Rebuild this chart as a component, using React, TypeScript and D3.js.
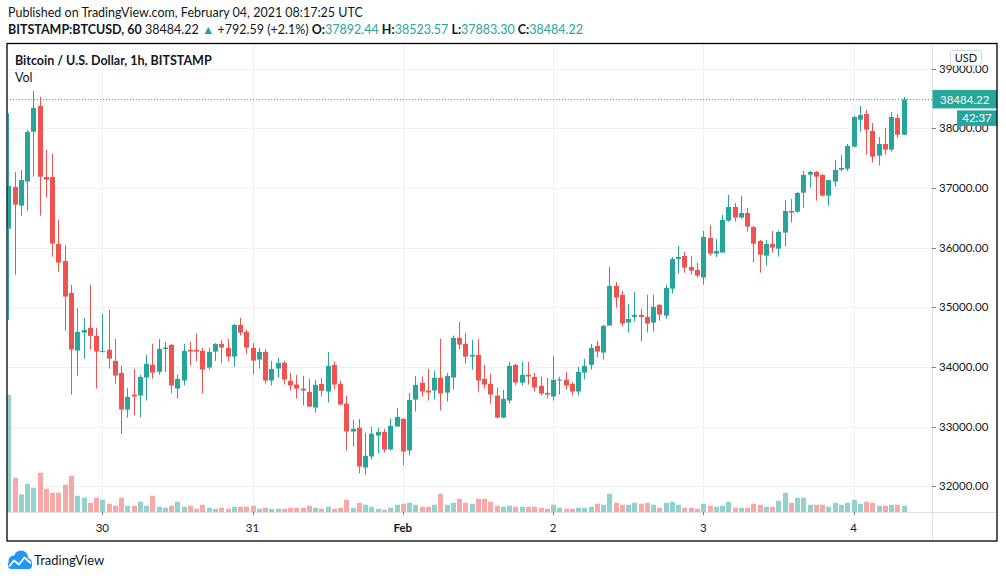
import * as d3 from "d3";

// hourly BTC/USD candles, first one = 29 Jan 2021 09:00 UTC
const START = new Date(Date.UTC(2021, 0, 29, 9));

const opens = [36318, 37017, 36704, 37106, 37943, 38374, 37184, 37184, 36062, 35777,
  35241, 34275, 34576, 34655, 34521, 34258, 34287, 34102, 33901, 33286,
  33538, 33521, 33823, 34035, 33918, 34300, 34370, 33638, 33773, 34287,
  34287, 34270, 33990, 34258, 34387, 34320, 34174, 34705, 34588, 34320,
  34124, 34253, 33773, 33973, 34069, 33768, 33706, 33638, 33583, 33320,
  33717, 33588, 34035, 33717, 33387, 32918, 32980, 32315, 32499, 32851,
  32913, 32617, 33002, 33130, 32600, 33454, 33734, 33605, 33605, 33818,
  33571, 33822, 34488, 34387, 34174, 34203, 33801, 33717, 33521, 33152,
  33437, 34035, 33739, 33868, 33834, 33684, 33566, 33504, 33773, 33784,
  33717, 33588, 33906, 34035, 34354, 34241, 34694, 35359, 35208, 34744,
  34839, 34873, 34839, 34744, 35040, 34861, 35313, 35811, 35861, 35677,
  35626, 35498, 36163, 35900, 35917, 36452, 36682, 36503, 36581, 36347,
  36112, 35866, 36062, 35983, 36251, 36615, 36603, 36921, 37223, 37268,
  37218, 36871, 37106, 37307, 37323, 37692, 38144, 38240, 37955, 37541,
  37737, 37642, 38173, 37892.44];

const highs = [38251, 37268, 37302, 37972, 38625, 38529, 37637, 37570, 36464, 36045,
  35375, 34985, 34822, 35375, 34655, 34889, 34956, 34471, 34018, 33649,
  33968, 33868, 34203, 34387, 34471, 34420, 34390, 33868, 34387, 34420,
  34560, 34320, 34320, 34400, 34454, 34471, 34720, 34822, 34621, 34404,
  34320, 34303, 34102, 34153, 34102, 33901, 33868, 33851, 33801, 33784,
  33818, 34253, 34086, 33768, 33516, 33114, 33130, 32896, 32997, 32980,
  32963, 33130, 33315, 33140, 33566, 33851, 33840, 33968, 33935, 34471,
  33901, 34526, 34756, 34571, 34454, 34471, 34035, 33884, 33655, 33616,
  34086, 34052, 34086, 34086, 33901, 33834, 33818, 34186, 33834, 33918,
  33750, 34002, 34136, 34387, 34437, 34705, 35677, 35426, 35275, 35057,
  35258, 34973, 35208, 35208, 35057, 35375, 35844, 36029, 35928, 35861,
  35744, 36280, 36380, 36146, 36548, 36883, 36749, 36866, 36665, 36360,
  36129, 36129, 36280, 36280, 36799, 36816, 36933, 37285, 37285, 37285,
  37230, 37140, 37469, 37553, 37737, 38206, 38374, 38307, 38089, 37854,
  38005, 38273, 38240, 38523.57];

const lows = [34789, 35544, 36536, 36620, 37189, 36536, 36838, 35849, 35593, 34610,
  33538, 33856, 34141, 34287, 33638, 34241, 33973, 33722, 32875, 33152,
  33186, 33152, 33437, 33801, 33868, 33918, 33555, 33471, 33689, 34023,
  34090, 33555, 33957, 34102, 34057, 34090, 34007, 34526, 34220, 33873,
  33973, 33722, 33689, 33822, 33706, 33605, 33471, 33354, 33330, 33236,
  33504, 33404, 33622, 33354, 32600, 32667, 32215, 32198, 32449, 32550,
  32566, 32600, 33002, 32349, 32516, 33253, 33504, 33437, 33454, 33270,
  33421, 33622, 34292, 34057, 33957, 33588, 33638, 33387, 33140, 33140,
  33387, 33689, 33689, 33706, 33588, 33521, 33471, 33437, 33538, 33622,
  33521, 33521, 33789, 33957, 34158, 34124, 34694, 34995, 34677, 34576,
  34761, 34426, 34576, 34593, 34777, 34811, 35230, 35565, 35581, 35548,
  35498, 35380, 35866, 35844, 35917, 36436, 36436, 36486, 36268, 35749,
  35581, 35699, 35916, 35849, 36017, 36419, 36586, 36670, 37005, 36787,
  36855, 36704, 37022, 37273, 37290, 37680, 37943, 37558, 37424, 37374,
  37558, 37608, 37843, 37883.3];

const closes = [37034, 36720, 37134, 37938, 38340, 37189, 37139, 36067, 35749, 35179,
  34292, 34588, 34621, 34521, 34258, 34270, 34141, 33856, 33286, 33499,
  33504, 33834, 34052, 33906, 34303, 34325, 33689, 33801, 34270, 34258,
  34258, 33957, 34253, 34387, 34325, 34174, 34705, 34576, 34325, 34107,
  34253, 33773, 33968, 34069, 33789, 33689, 33638, 33605, 33337, 33700,
  33600, 34018, 33706, 33370, 32918, 32963, 32332, 32511, 32880, 32913,
  32617, 33013, 33164, 32583, 33449, 33700, 33588, 33571, 33818, 33555,
  33851, 34488, 34375, 34174, 34203, 33773, 33706, 33538, 33152, 33466,
  34018, 33739, 33868, 33840, 33655, 33555, 33538, 33784, 33790, 33689,
  33588, 33918, 34018, 34320, 34258, 34688, 35359, 35163, 34727, 34806,
  34873, 34839, 34727, 35007, 34878, 35325, 35811, 35844, 35665, 35615,
  35531, 36179, 35900, 35945, 36464, 36682, 36503, 36581, 36352, 36067,
  35883, 36062, 36000, 36263, 36615, 36586, 36916, 37218, 37268, 37189,
  36871, 37134, 37302, 37335, 37704, 38189, 38223, 37977, 37524, 37737,
  37642, 38189, 37892.44, 38484.22];

const volumes = [4680, 1370, 710, 1130, 970, 1570, 930, 770, 770, 1090,
  1450, 650, 570, 370, 570, 490, 330, 250, 570, 250,
  250, 410, 250, 650, 210, 170, 250, 410, 210, 250,
  130, 290, 170, 130, 170, 130, 210, 210, 210, 250,
  130, 170, 130, 130, 130, 170, 170, 170, 250, 170,
  130, 210, 130, 170, 490, 170, 370, 290, 210, 130,
  90, 170, 290, 330, 370, 290, 210, 210, 290, 730,
  290, 370, 530, 370, 330, 530, 530, 410, 250, 210,
  250, 210, 210, 210, 210, 170, 130, 290, 170, 130,
  130, 170, 170, 210, 330, 290, 730, 370, 290, 290,
  370, 330, 370, 290, 170, 370, 410, 290, 170, 170,
  130, 330, 250, 210, 250, 410, 170, 170, 170, 330,
  290, 210, 210, 450, 770, 370, 570, 570, 290, 290,
  290, 210, 370, 290, 370, 490, 330, 410, 370, 250,
  250, 290, 290, 250];

const priceTicks = [32000, 33000, 34000, 35000, 36000, 37000, 38000, 39000];
const dayTicks = [30, 31, 32, 33, 34, 35].map(d => new Date(Date.UTC(2021, 0, d)));
const dayLabels = ["30", "31", "Feb", "2", "3", "4"];

const W = 1006;
const H = 578;
const frame = { left: 7, top: 43.5, right: 997, bottom: 541 };
const plot = { left: 7, right: 932, top: 43.5, bottom: 512 };

const UP = "#26a69a";
const DOWN = "#ef5350";
const UP_VOL = "#92d2cc";
const DOWN_VOL = "#f7a9a7";
const GRID = "#f0f0f0";
const TEXT = "#131722";
const FONT = "Lato, 'Noto Sans', sans-serif";

export default function App() {
  const x = d3.scaleTime().domain([dayTicks[0], dayTicks[5]]).range([102.3, 853.5]);
  const y = d3.scaleLinear().domain([32000, 38000]).range([486.3, 128.3]);
  const yVol = d3.scaleLinear().domain([0, 5000]).range([plot.bottom, plot.bottom - 125]);

  const candles = opens.map((o, i) => ({
    t: d3.timeHour.offset(START, i),
    o, h: highs[i], l: lows[i], c: closes[i], v: volumes[i]
  }));
  const last = candles[candles.length - 1];
  const lastY = y(last.c);

  return (
    <svg width={W} height={H} style={{ position: "absolute", left: 0, top: 0, display: "block" }}
      fontFamily={FONT}>
      <rect width={W} height={H} fill="#fff" />

      {/* header */}
      <text x={8} y={17} fontSize={12.5} fill={TEXT}>
        Published on TradingView.com, February 04, 2021 08:17:25 UTC
      </text>
      <text x={8} y={34} fontSize={12.5} fill={TEXT}>
        <tspan fontWeight="bold">BITSTAMP:BTCUSD, 60</tspan>
        <tspan> 38484.22 </tspan>
        <tspan fill={UP}>▲</tspan>
        <tspan> +792.59 (+2.1%) </tspan>
        <tspan fontWeight="bold">O:</tspan><tspan fill={UP}>37892.44</tspan>
        <tspan fontWeight="bold"> H:</tspan><tspan fill={UP}>38523.57</tspan>
        <tspan fontWeight="bold"> L:</tspan><tspan fill={UP}>37883.30</tspan>
        <tspan fontWeight="bold"> C:</tspan><tspan fill={UP}>38484.22</tspan>
      </text>

      <defs>
        <clipPath id="plotClip">
          <rect x={plot.left + 0.5} y={plot.top} width={plot.right - plot.left - 0.5} height={plot.bottom - plot.top} />
        </clipPath>
      </defs>

      {/* grid */}
      <g stroke={GRID} strokeWidth={1}>
        {priceTicks.map(p => (
          <line key={p} x1={plot.left} x2={plot.right} y1={Math.round(y(p)) + 0.5} y2={Math.round(y(p)) + 0.5} />
        ))}
        {dayTicks.map(d => (
          <line key={+d} x1={Math.round(x(d)) + 0.5} x2={Math.round(x(d)) + 0.5} y1={plot.top} y2={plot.bottom} />
        ))}
      </g>

      <g clipPath="url(#plotClip)">
        {/* volume */}
        {candles.map((d, i) => {
          const cx = Math.round(x(d.t));
          return (
            <rect key={"v" + i} x={cx - 2} width={5} y={yVol(d.v)} height={plot.bottom - yVol(d.v)}
              fill={d.c >= d.o ? UP_VOL : DOWN_VOL} />
          );
        })}

        {/* candles */}
        {candles.map((d, i) => {
          const cx = Math.round(x(d.t));
          const col = d.c >= d.o ? UP : DOWN;
          const top = y(Math.max(d.o, d.c));
          const bot = y(Math.min(d.o, d.c));
          return (
            <g key={"c" + i}>
              <line x1={cx + 0.5} x2={cx + 0.5} y1={y(d.h)} y2={y(d.l)} stroke={col} strokeWidth={1} />
              <rect x={cx - 2} width={5} y={top} height={Math.max(1, bot - top)} fill={col} />
            </g>
          );
        })}

        {/* last price line */}
        <line x1={plot.left} x2={plot.right} y1={lastY} y2={lastY} stroke={UP} strokeWidth={1} strokeDasharray="1,2" />
      </g>

      {/* in-chart legend */}
      <text x={15} y={64.5} fontSize={12.5} fontWeight="bold" fill={TEXT}>Bitcoin / U.S. Dollar, 1h, BITSTAMP</text>
      <text x={15} y={81.5} fontSize={12.5} fill={TEXT}>Vol</text>

      {/* axis separators */}
      <line x1={plot.right + 0.5} x2={plot.right + 0.5} y1={frame.top} y2={frame.bottom} stroke="#e0e0e0" />
      <line x1={frame.left} x2={frame.right} y1={plot.bottom + 0.5} y2={plot.bottom + 0.5} stroke="#e0e0e0" />

      {/* price axis */}
      {priceTicks.map(p => (
        <g key={"pt" + p}>
          <line x1={plot.right} x2={plot.right + 4} y1={Math.round(y(p)) + 0.5} y2={Math.round(y(p)) + 0.5} stroke="#787b86" />
          <text x={939} y={y(p)} dy="0.36em" fontSize={11.5} fill={TEXT}>{d3.format(".2f")(p)}</text>
        </g>
      ))}

      {/* time axis */}
      {dayTicks.map((d, i) => (
        <g key={"dt" + i}>
          <line x1={Math.round(x(d)) + 0.5} x2={Math.round(x(d)) + 0.5} y1={plot.bottom} y2={plot.bottom + 3} stroke="#787b86" />
          <text x={x(d)} y={528} dy="0.36em" textAnchor="middle" fontSize={11.5}
            fontWeight={dayLabels[i] === "Feb" ? "bold" : "normal"} fill={TEXT}>{dayLabels[i]}</text>
        </g>
      ))}

      {/* USD badge */}
      <rect x={950.5} y={50.5} width={31} height={15} rx={3} fill="#fff" stroke="#d1d4dc" />
      <text x={966} y={58} dy="0.36em" textAnchor="middle" fontSize={11} fill={TEXT}>USD</text>

      {/* last price & countdown */}
      <rect x={plot.right + 0.5} y={lastY - 9.5} width={frame.right - plot.right - 0.5} height={18.5} fill={UP} />
      <text x={940} y={lastY} dy="0.36em" fontSize={11.5} fill="#fff">{d3.format(".2f")(last.c)}</text>
      <rect x={957} y={lastY + 11} width={frame.right - 957} height={15.5} fill={UP} />
      <text x={977} y={lastY + 18.8} dy="0.36em" textAnchor="middle" fontSize={11.5} fill="#fff">42:37</text>

      {/* frame */}
      <rect x={frame.left} y={frame.top} width={frame.right - frame.left} height={frame.bottom - frame.top}
        fill="none" stroke="#000" strokeWidth={1.3} />

      {/* footer logo */}
      <g>
        <circle cx={14} cy={561} r={5.5} fill="#2196f3" />
        <circle cx={21} cy={557.5} r={7} fill="#2196f3" />
        <circle cx={27} cy={563} r={5} fill="#2196f3" />
        <rect x={8} y={561} width={24} height={8} rx={3.5} fill="#2196f3" />
        <polyline points="9.5,566 14,560.5 19,564.5 24.5,557.5 30.5,563" fill="none" stroke="#fff" strokeWidth={1.8}
          strokeLinejoin="round" strokeLinecap="round" />
      </g>
      <text x={34} y={564.5} fontSize={13} fill={TEXT}>TradingView</text>
    </svg>
  );
}
